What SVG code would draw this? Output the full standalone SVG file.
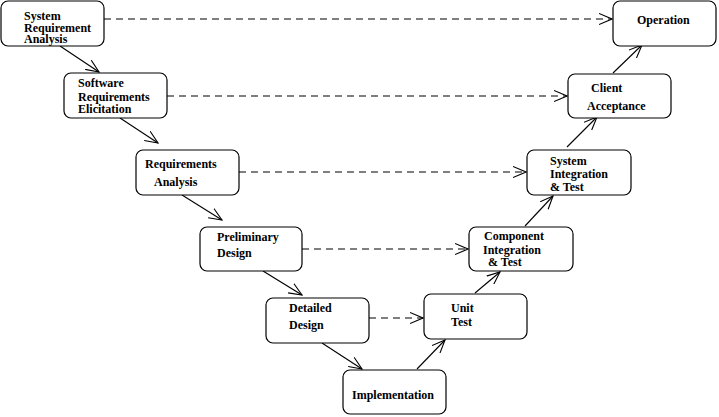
<svg xmlns="http://www.w3.org/2000/svg" width="719" height="417" viewBox="0 0 719 417">
<defs>
<style>
.box{fill:#fff;stroke:#000;stroke-width:1.2}
text{font-family:"Liberation Serif","Times New Roman",serif;font-weight:bold;font-size:12px;fill:#000}
.c{stroke:#000;stroke-width:1.1;fill:none}
.d{stroke-dasharray:7,5}
</style>
<marker id="ah" markerUnits="userSpaceOnUse" markerWidth="14" markerHeight="12" refX="13" refY="6" orient="auto" viewBox="0 0 14 12">
<path d="M0,0.5 L13,6 L0,11.5" fill="none" stroke="#000" stroke-width="1.1"/>
</marker>
</defs>
<rect width="719" height="417" fill="#fff"/>
<g id="connectors">
<line class="c d" x1="104" y1="19" x2="612" y2="19" marker-end="url(#ah)"/>
<line class="c d" x1="167" y1="96" x2="567" y2="96" marker-end="url(#ah)"/>
<line class="c d" x1="239" y1="172" x2="526" y2="172" marker-end="url(#ah)"/>
<line class="c d" x1="302" y1="249" x2="468" y2="249" marker-end="url(#ah)"/>
<line class="c d" x1="369" y1="318" x2="423" y2="318" marker-end="url(#ah)"/>
<line class="c" x1="60" y1="46" x2="99" y2="72" marker-end="url(#ah)"/>
<line class="c" x1="120" y1="118" x2="158" y2="143" marker-end="url(#ah)"/>
<line class="c" x1="182" y1="195" x2="222" y2="220" marker-end="url(#ah)"/>
<line class="c" x1="263" y1="271" x2="302" y2="295" marker-end="url(#ah)"/>
<line class="c" x1="322" y1="343" x2="362" y2="369" marker-end="url(#ah)"/>
<line class="c" x1="417" y1="369" x2="445" y2="340" marker-end="url(#ah)"/>
<line class="c" x1="475" y1="293" x2="500" y2="272" marker-end="url(#ah)"/>
<line class="c" x1="525" y1="226" x2="553" y2="196" marker-end="url(#ah)"/>
<line class="c" x1="567" y1="147" x2="597" y2="117" marker-end="url(#ah)"/>
<line class="c" x1="613" y1="73" x2="642" y2="45" marker-end="url(#ah)"/>
</g>
<g id="n1"><rect class="box" x="1" y="1" width="103" height="45" rx="7"/>
<text x="24" y="20">System</text><text x="24" y="32">Requirement</text><text x="24" y="43">Analysis</text></g>
<g id="n2"><rect class="box" x="64" y="73" width="103" height="45" rx="7"/>
<text x="78" y="87">Software</text><text x="78" y="101">Requirements</text><text x="78" y="113">Elicitation</text></g>
<g id="n3"><rect class="box" x="136" y="150" width="103" height="45" rx="7"/>
<text x="145" y="168">Requirements</text><text x="154" y="186">Analysis</text></g>
<g id="n4"><rect class="box" x="200" y="227" width="102" height="44" rx="7"/>
<text x="217" y="241">Preliminary</text><text x="217" y="257">Design</text></g>
<g id="n5"><rect class="box" x="266" y="298" width="103" height="45" rx="7"/>
<text x="289" y="312">Detailed</text><text x="289" y="329">Design</text></g>
<g id="n6"><rect class="box" x="343" y="370" width="103" height="44" rx="7"/>
<text x="352" y="399">Implementation</text></g>
<g id="n7"><rect class="box" x="424" y="294" width="103" height="45" rx="7"/>
<text x="451" y="312">Unit</text><text x="451" y="326">Test</text></g>
<g id="n8"><rect class="box" x="469" y="227" width="104" height="44" rx="7"/>
<text x="484" y="240">Component</text><text x="483" y="254">Integration</text><text x="488" y="266">&amp; Test</text></g>
<g id="n9"><rect class="box" x="527" y="150" width="104" height="45" rx="7"/>
<text x="550" y="165">System</text><text x="550" y="178">Integration</text><text x="550" y="191">&amp; Test</text></g>
<g id="n10"><rect class="box" x="568" y="74" width="103" height="44" rx="7"/>
<text x="591" y="92">Client</text><text x="587" y="110">Acceptance</text></g>
<g id="n11"><rect class="box" x="613" y="1" width="103" height="45" rx="7"/>
<text x="637" y="24">Operation</text></g>
</svg>
